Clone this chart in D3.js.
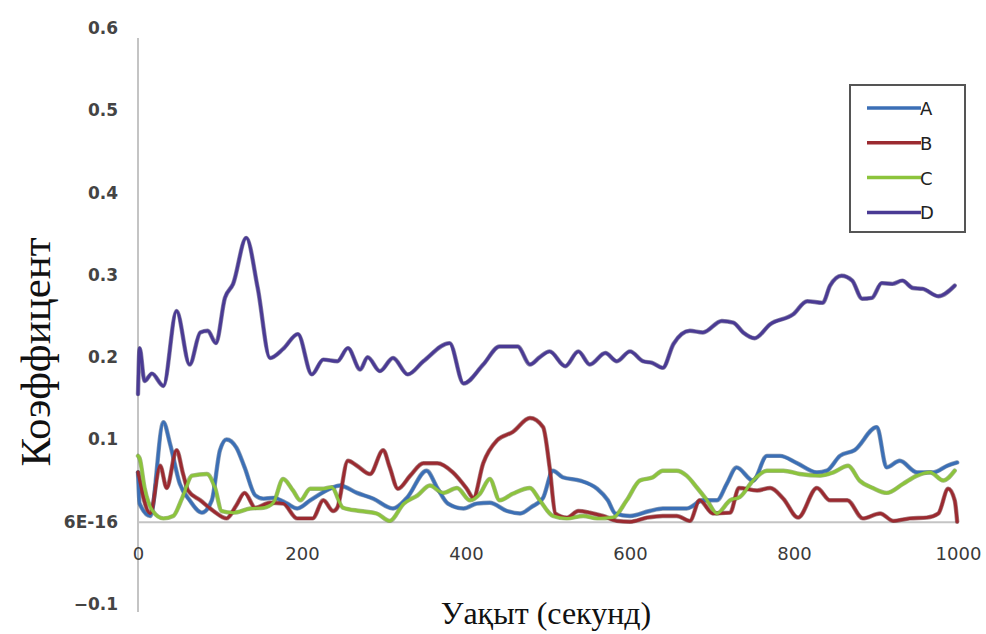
<!DOCTYPE html>
<html>
<head>
<meta charset="utf-8">
<style>
	body { margin: 0; background: white; }
	.ytick text { font-family: "DejaVu Sans", Arial, sans-serif; font-size: 17px; font-weight: bold; fill: #444; }
	.xtick text { font-family: "DejaVu Sans", Arial, sans-serif; font-size: 18px; fill: #3a3a3a; }
	.axis path { stroke: #c4c4c4; stroke-width: 2; }
	.series { fill: none; stroke-linejoin: round; stroke-linecap: round; }
	.legend text { font-family: "DejaVu Sans", Arial, sans-serif; font-size: 18px; fill: #222; }
</style>
</head>
<body>
<svg width="986" height="634"></svg>

<script src="https://d3js.org/d3.v7.min.js"></script>
<script>
const width = 986;
const height = 634;

// time (s), coefficient
const seriesA = [[0,0.06],[2,0.022],[15,0.007],[31,0.121],[39,0.095],[51,0.046],[63,0.026],[78,0.011],[90,0.026],[100,0.087],[108,0.1],[120,0.09],[130,0.066],[143,0.032],[153,0.028],[165,0.029],[182,0.022],[194,0.016],[210,0.026],[234,0.04],[246,0.044],[267,0.035],[287,0.028],[311,0.016],[328,0.029],[352,0.062],[365,0.041],[378,0.022],[397,0.016],[413,0.022],[429,0.023],[450,0.013],[466,0.01],[480,0.018],[494,0.029],[506,0.062],[518,0.054],[539,0.05],[560,0.04],[573,0.026],[582,0.01],[600,0.007],[624,0.013],[640,0.016],[669,0.016],[689,0.026],[706,0.026],[718,0.046],[730,0.066],[750,0.05],[767,0.08],[783,0.08],[804,0.071],[828,0.06],[840,0.062],[856,0.08],[874,0.087],[901,0.115],[913,0.066],[929,0.074],[950,0.06],[970,0.06],[987,0.068],[999,0.072]];
const seriesB = [[0,0.06],[15,0.01],[27,0.068],[35,0.041],[47,0.087],[55,0.058],[61,0.038],[76,0.026],[92,0.013],[108,0.004],[120,0.02],[130,0.035],[143,0.017],[161,0.023],[177,0.022],[194,0.004],[213,0.004],[226,0.026],[238,0.013],[243,0.017],[256,0.074],[267,0.068],[283,0.058],[299,0.087],[307,0.066],[317,0.04],[332,0.056],[348,0.071],[365,0.071],[384,0.06],[401,0.04],[409,0.029],[421,0.071],[438,0.099],[457,0.109],[478,0.126],[494,0.115],[502,0.066],[509,0.01],[523,0.005],[537,0.013],[551,0.011],[567,0.007],[584,0.001],[600,0],[621,0.005],[640,0.007],[657,0.007],[673,0.001],[685,0.026],[701,0.01],[722,0.011],[733,0.041],[755,0.038],[771,0.041],[787,0.028],[805,0.005],[828,0.041],[844,0.026],[865,0.026],[884,0.004],[905,0.01],[921,0.001],[941,0.004],[962,0.005],[976,0.01],[988,0.04],[996,0.026],[999,0]];
const seriesC = [[0,0.08],[2,0.077],[8,0.041],[18,0.013],[31,0.004],[43,0.007],[54,0.029],[66,0.056],[84,0.058],[94,0.041],[102,0.013],[116,0.011],[137,0.016],[153,0.017],[165,0.023],[177,0.052],[189,0.038],[198,0.026],[210,0.04],[226,0.04],[236,0.042],[250,0.017],[271,0.013],[291,0.01],[307,0.001],[324,0.022],[341,0.032],[356,0.044],[372,0.035],[389,0.041],[405,0.026],[417,0.034],[429,0.052],[441,0.026],[457,0.034],[478,0.041],[490,0.026],[506,0.007],[523,0.004],[543,0.007],[560,0.004],[579,0.005],[596,0.026],[612,0.05],[628,0.054],[640,0.062],[657,0.062],[669,0.056],[682,0.041],[694,0.026],[706,0.01],[722,0.026],[734,0.03],[750,0.05],[767,0.062],[787,0.062],[807,0.058],[832,0.056],[848,0.06],[866,0.068],[880,0.05],[896,0.041],[913,0.035],[933,0.046],[950,0.056],[966,0.06],[982,0.05],[996,0.062]];
const seriesD = [[0,0.155],[2,0.211],[8,0.171],[17,0.18],[31,0.165],[47,0.256],[63,0.191],[76,0.23],[85,0.232],[95,0.217],[106,0.272],[116,0.289],[132,0.345],[146,0.284],[161,0.199],[177,0.21],[195,0.228],[212,0.179],[226,0.197],[243,0.195],[256,0.211],[271,0.185],[280,0.2],[295,0.183],[311,0.199],[329,0.179],[348,0.195],[380,0.217],[397,0.168],[421,0.191],[441,0.213],[463,0.213],[478,0.191],[490,0.2],[502,0.207],[521,0.189],[537,0.207],[551,0.191],[570,0.205],[584,0.195],[600,0.207],[616,0.195],[627,0.193],[640,0.187],[653,0.216],[673,0.232],[689,0.23],[712,0.244],[726,0.242],[738,0.23],[752,0.223],[771,0.24],[799,0.252],[816,0.268],[835,0.266],[844,0.287],[858,0.299],[871,0.293],[883,0.271],[895,0.272],[907,0.29],[920,0.289],[932,0.293],[945,0.284],[957,0.283],[976,0.274],[996,0.287]];

const seriesNames = ["A", "B", "C", "D"];
const seriesColors = ["#3b6fb6", "#9b2a30", "#8cc43c", "#4a3a94"];
const seriesData = [seriesA, seriesB, seriesC, seriesD];

const yTicks = [-0.1, 0, 0.1, 0.2, 0.3, 0.4, 0.5, 0.6];
const yTickLabels = ["\u22120.1", "6E-16", "0.1", "0.2", "0.3", "0.4", "0.5", "0.6"];
const xTicks = [0, 200, 400, 600, 800, 1000];

var svg = d3.select("svg");

var x = d3.scaleLinear().domain([0, 1000]).range([138, 958]);
var y = d3.scaleLinear().domain([-0.1, 0.6]).range([604, 28]);

// y axis
var yAxis = svg.append("g")
	.attr("class", "axis ytick")
	.attr("transform", "translate(138,0)")
	.call(d3.axisLeft(y)
		.tickValues(yTicks)
		.tickSize(0)
		.tickPadding(20)
		.tickFormat((d, i) => yTickLabels[i]));
yAxis.select(".domain").attr("d", "M0," + (y(0.6) + 10) + "V" + (y(-0.1) + 8));

// x axis along zero
var xAxis = svg.append("g")
	.attr("class", "axis xtick")
	.attr("transform", "translate(0," + y(0) + ")")
	.call(d3.axisBottom(x)
		.tickValues(xTicks)
		.tickSize(0)
		.tickPadding(26)
		.tickFormat(d3.format("d")));

// lines
var line = d3.line()
	.x(d => x(d[0]))
	.y(d => y(d[1]))
	.curve(d3.curveMonotoneX);

svg.selectAll(".shadow")
	.data(seriesData)
	.enter()
	.append("path")
		.attr("class", "series shadow")
		.attr("d", line)
		.style("stroke", (d, i) => d3.color(seriesColors[i]).darker(1.2))
		.style("stroke-width", 4.4)
		.style("opacity", 0.55);

svg.selectAll(".main")
	.data(seriesData)
	.enter()
	.append("path")
		.attr("class", "series main")
		.attr("d", line)
		.style("stroke", (d, i) => seriesColors[i])
		.style("stroke-width", 3);

// legend
var legend = svg.append("g").attr("class", "legend");
legend.append("rect")
	.attr("x", 850).attr("y", 85)
	.attr("width", 115).attr("height", 147)
	.attr("fill", "white")
	.attr("stroke", "#555")
	.attr("stroke-width", 2);

var entry = legend.selectAll(".entry")
	.data(seriesNames)
	.enter()
	.append("g")
		.attr("class", "entry")
		.attr("transform", (d, i) => "translate(0," + (108 + i * 34.8) + ")");
entry.append("line")
	.attr("x1", 867).attr("x2", 921)
	.attr("y1", 0).attr("y2", 0)
	.attr("stroke", (d, i) => seriesColors[i])
	.attr("stroke-width", 3.5);
entry.append("text")
	.attr("x", 920).attr("y", 7)
	.text(d => d);

// axis titles
svg.append("text")
	.attr("transform", "translate(50,352) rotate(-90)")
	.attr("text-anchor", "middle")
	.style("font-family", "'Liberation Serif', 'Times New Roman', serif")
	.style("font-size", "43px")
	.style("fill", "#111")
	.text("Коэффицент");

svg.append("text")
	.attr("x", 546)
	.attr("y", 624)
	.attr("text-anchor", "middle")
	.style("font-family", "'Liberation Serif', 'Times New Roman', serif")
	.style("font-size", "32px")
	.style("fill", "#111")
	.text("Уақыт (секунд)");
</script>
</body>
</html>
